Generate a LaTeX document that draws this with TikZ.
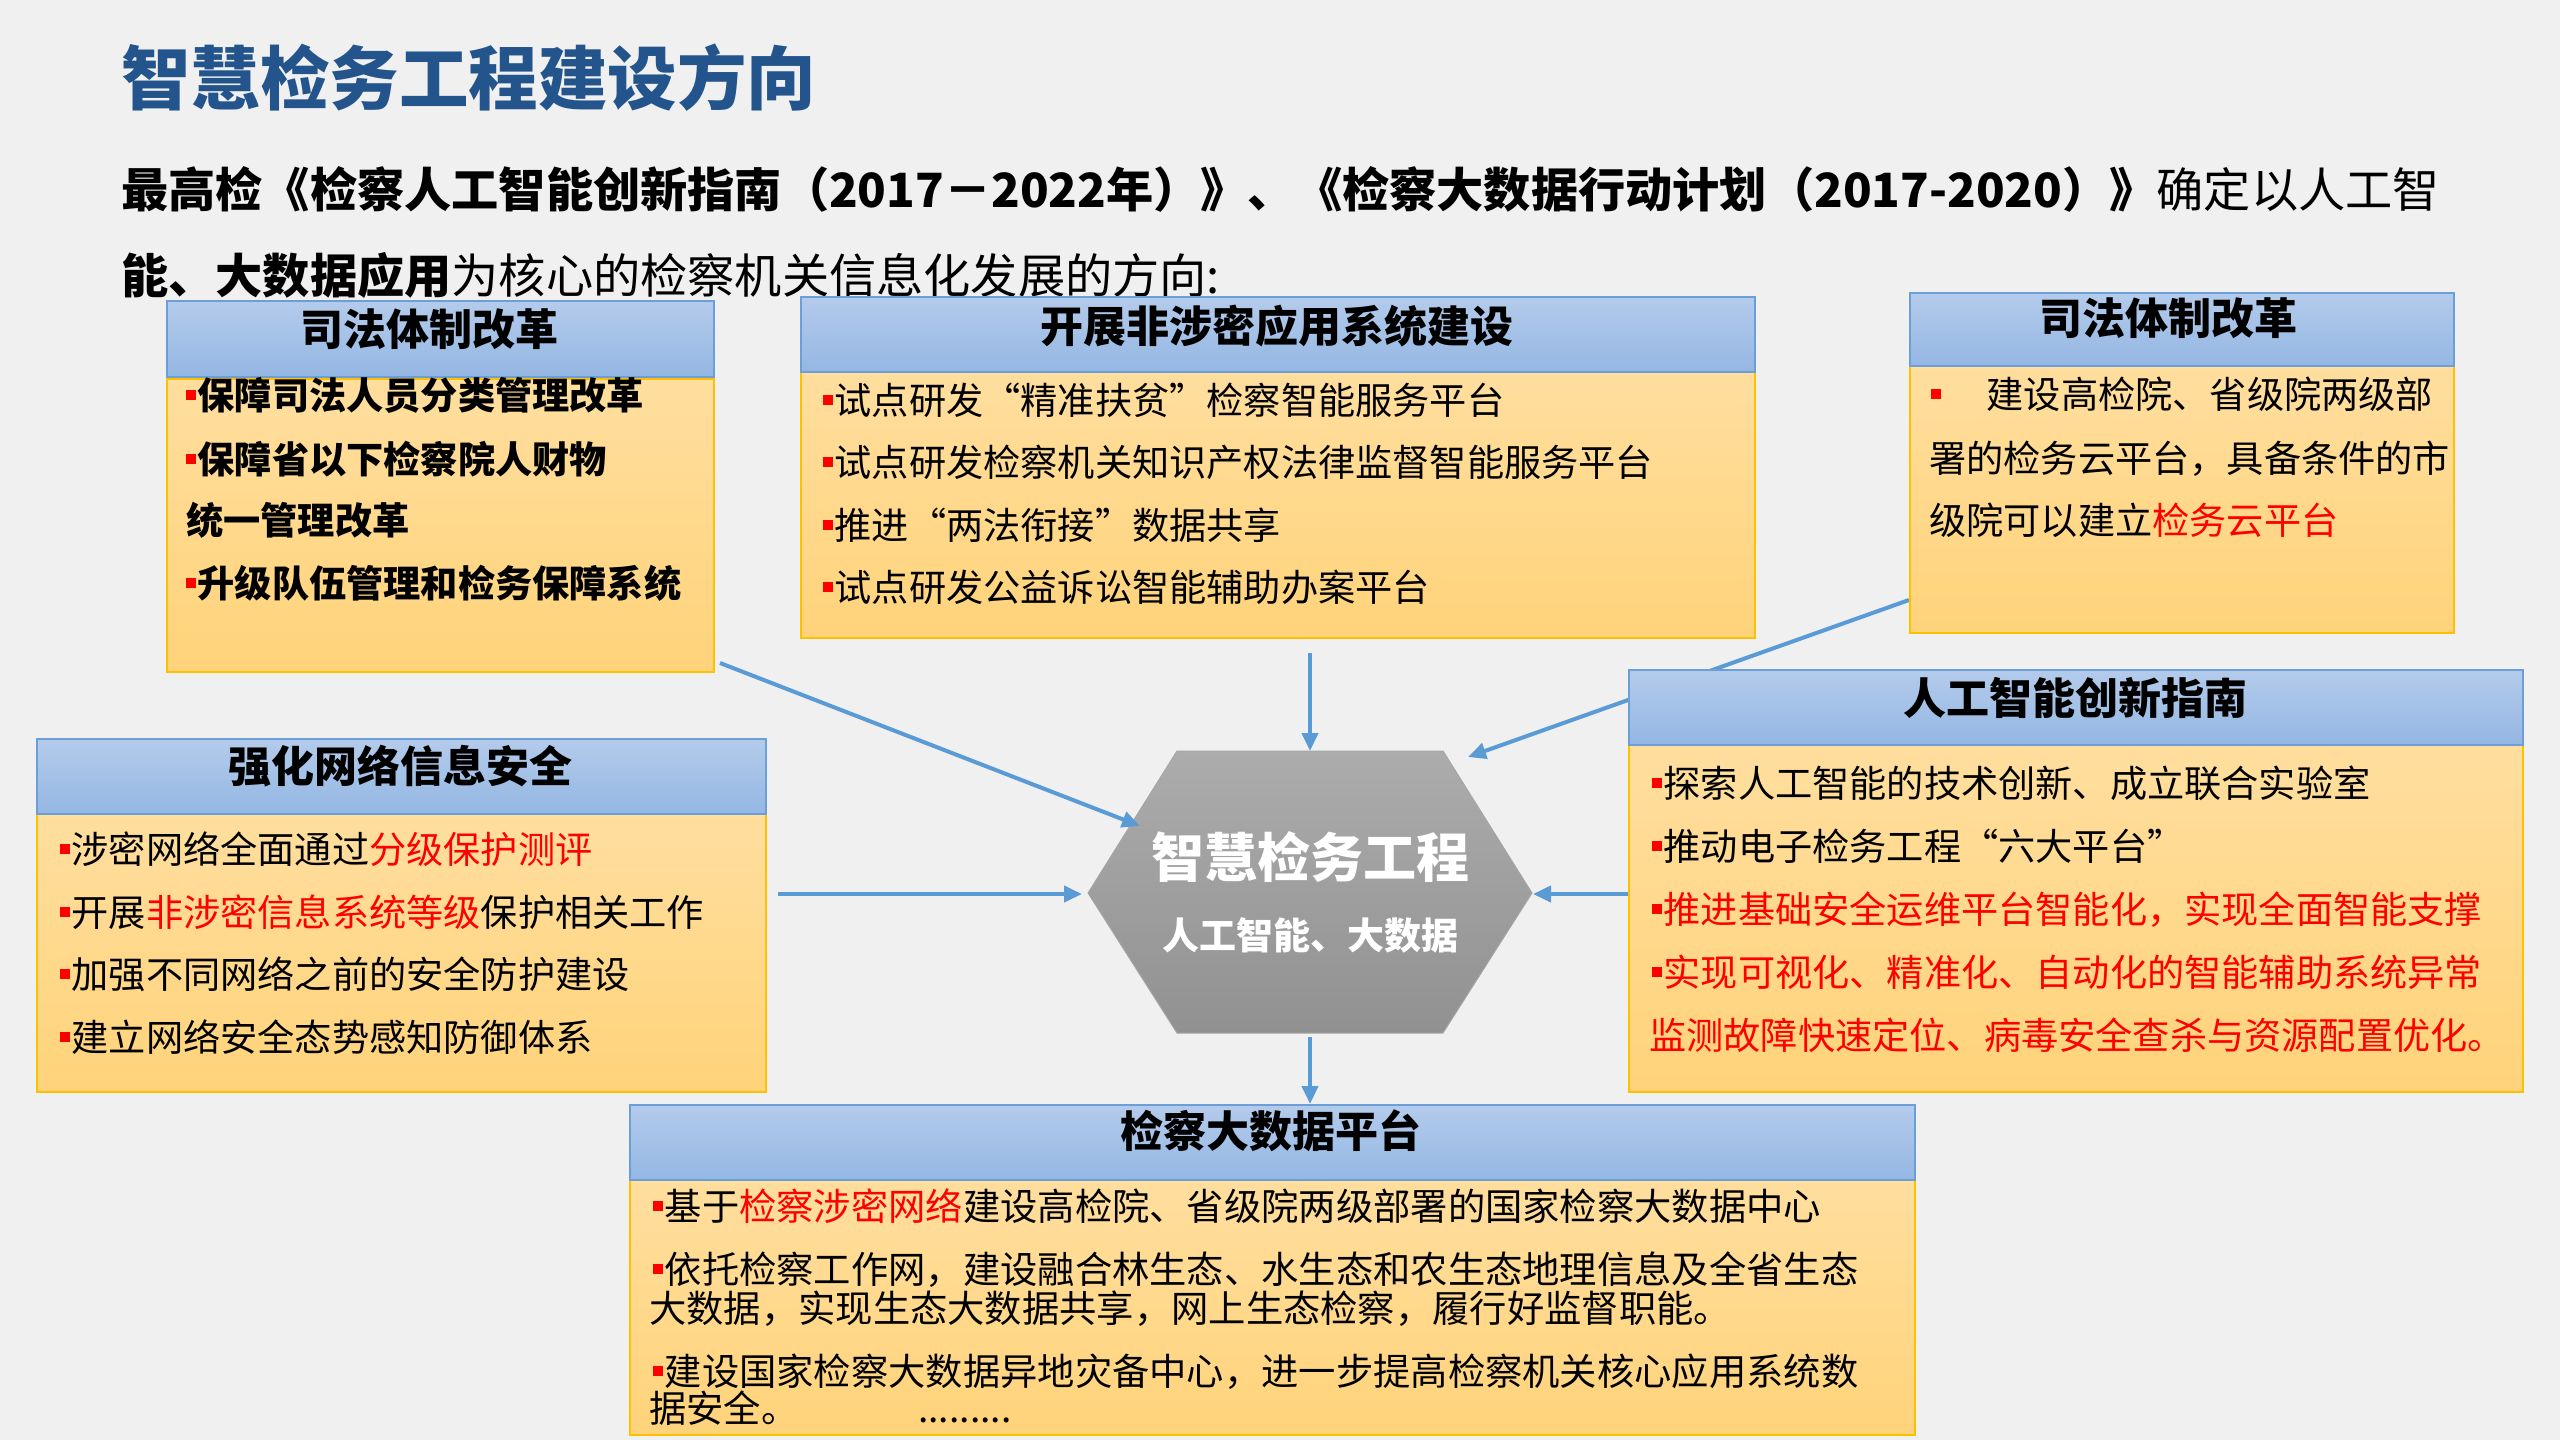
\documentclass[tikz,border=0pt]{standalone}
\usepackage{fontspec}
\setmainfont{Noto Sans CJK SC}
\usetikzlibrary{arrows.meta}
\definecolor{bgc}{RGB}{240,240,240}
\definecolor{titleblue}{RGB}{35,85,140}
\definecolor{hdtop}{RGB}{180,203,235}
\definecolor{hdbot}{RGB}{148,183,227}
\definecolor{hdline}{RGB}{108,159,216}
\definecolor{bdtop}{RGB}{255,222,158}
\definecolor{bdbot}{RGB}{255,211,122}
\definecolor{bdline}{RGB}{255,192,0}
\definecolor{arr}{RGB}{91,155,213}
\definecolor{hextop}{RGB}{172,172,172}
\definecolor{hexbot}{RGB}{145,145,145}
\newcommand\blt{\textcolor{red}{\rule[0.24em]{0.27em}{0.27em}}\hspace{0.04em}}
\begin{document}
\begin{tikzpicture}[x=1pt,y=-1pt,
  hdr/.style={draw=hdline, line width=1.5pt, top color=hdtop, bottom color=hdbot, inner sep=0pt, anchor=north west},
  bdy/.style={draw=bdline, line width=1.5pt, top color=bdtop, bottom color=bdbot, inner sep=0pt, anchor=north west},
  htxt/.style={anchor=base, inner sep=0pt, font=\fontsize{43}{46}\selectfont\bfseries},
  txt/.style={anchor=base west, inner sep=0pt, font=\fontsize{37.2}{40}\selectfont},
  btxt/.style={anchor=base west, inner sep=0pt, font=\fontsize{37.2}{40}\selectfont\bfseries},
  ftxt/.style={anchor=base west, inner sep=0pt, font=\fontsize{37.3}{40}\selectfont},
  conn/.style={draw=arr, line width=4pt, -{Triangle[length=18pt,width=16pt]}}]
\fill[bgc] (0,0) rectangle (2560,1440);
\useasboundingbox (0,0) rectangle (2560,1440);
% title
\node[anchor=base west, inner sep=0pt, text=titleblue, font=\fontsize{69.5}{72}\selectfont\bfseries] (title) at (121,104) {智慧检务工程建设方向};
\node[anchor=base west, inner sep=0pt, font=\fontsize{47.2}{52}\selectfont] (sub1) at (121,207) {\textbf{最高检《检察人工智能创新指南（2017－2022年）》、《检察大数据行动计划（2017-2020）》}确定以人工智};
\node[anchor=base west, inner sep=0pt, font=\fontsize{47.2}{52}\selectfont] (sub2) at (121,293) {\textbf{能、大数据应用}为核心的检察机关信息化发展的方向:};
% hexagon
\coordinate (hl) at (1088,893);
\coordinate (hul) at (1177,751);
\coordinate (hur) at (1443,751);
\coordinate (hr) at (1532,893);
\coordinate (hlr) at (1443,1033);
\coordinate (hll) at (1177,1033);
\shade[top color=hextop, bottom color=hexbot, draw=gray!70, line width=1pt] (hl) -- (hul) -- (hur) -- (hr) -- (hlr) -- (hll) -- cycle;
\node[anchor=base, inner sep=0pt, text=white, font=\fontsize{53}{56}\selectfont\bfseries] (hex1) at (1310,877) {智慧检务工程};
\node[anchor=base, inner sep=0pt, text=white, font=\fontsize{37}{40}\selectfont\bfseries] (hex2) at (1310,949) {人工智能、大数据};
% arrow end points
\coordinate (a1s) at (720,663);
\coordinate (a1e) at (1140,826);
\coordinate (a2s) at (1310,653);
\coordinate (a3s) at (1909,600);
\coordinate (a3e) at (1468,757);
\coordinate (a4s) at (778,894);
\coordinate (a4e) at (1082,894);
\coordinate (a5s) at (1628,894);
\coordinate (a5e) at (1533,894);
\coordinate (a6s) at (1310,1037);
\coordinate (a6e) at (1310,1104);
\draw[conn] (a1s) -- (a1e);
\draw[conn] (a2s) -- (hul -| a2s);
\draw[conn] (a3s) -- (a3e);
\draw[conn] (a4s) -- (a4e);
\draw[conn] (a5s) -- (a5e);
\draw[conn] (a6s) -- (a6e);
% Box A
\node[bdy, minimum width=547pt, minimum height=293pt] (Ab) at (166,378) {};
\node[hdr, minimum width=547pt, minimum height=76pt] (Ah) at (166,300) {};
\node[htxt] (At) at (429,345) {司法体制改革};
\node[btxt] (A1) at (186,409) {\blt 保障司法人员分类管理改革};
\node[btxt] (A2) at (186,473) {\blt 保障省以下检察院人财物};
\node[btxt] (A3) at (186,534) {统一管理改革};
\node[btxt] (A4) at (186,597) {\blt 升级队伍管理和检务保障系统};
% Box B
\node[bdy, minimum width=954pt, minimum height=266pt] (Bb) at (800,371) {};
\node[hdr, minimum width=954pt, minimum height=75pt] (Bh) at (800,296) {};
\node[htxt] (Bt) at (1277,342) {开展非涉密应用系统建设};
\node[txt] (B1) at (823,414) {\blt 试点研发“精准扶贫”检察智能服务平台};
\node[txt] (B2) at (823,476) {\blt 试点研发检察机关知识产权法律监督智能服务平台};
\node[txt] (B3) at (823,539) {\blt 推进“两法衔接”数据共享};
\node[txt] (B4) at (823,601) {\blt 试点研发公益诉讼智能辅助办案平台};
% Box C
\node[bdy, minimum width=544pt, minimum height=267pt] (Cb) at (1909,365) {};
\node[hdr, minimum width=544pt, minimum height=73pt] (Ch) at (1909,292) {};
\node[htxt] (Ct) at (2168,334) {司法体制改革};
\node[txt] (C1) at (1931,408) {\blt\hspace{44pt}建设高检院、省级院两级部};
\node[txt] (C2) at (1929,472) {署的检务云平台，具备条件的市};
\node[txt] (C3) at (1929,534) {级院可以建立\textcolor{red}{检务云平台}};
% Box E (drawn after arrow 3 so it covers it)
\node[bdy, minimum width=894pt, minimum height=347pt] (Eb) at (1628,744) {};
\node[hdr, minimum width=894pt, minimum height=75pt] (Eh) at (1628,669) {};
\node[htxt] (Et) at (2075,714) {人工智能创新指南};
\node[txt] (E1) at (1652,797) {\blt 探索人工智能的技术创新、成立联合实验室};
\node[txt] (E2) at (1652,860) {\blt 推动电子检务工程“六大平台”};
\node[txt, text=red] (E3) at (1652,923) {\blt 推进基础安全运维平台智能化，实现全面智能支撑};
\node[txt, text=red] (E4) at (1652,986) {\blt 实现可视化、精准化、自动化的智能辅助系统异常};
\node[txt, text=red] (E5) at (1649,1049) {监测故障快速定位、病毒安全查杀与资源配置优化。};
% Box D
\node[bdy, minimum width=729pt, minimum height=278pt] (Db) at (36,813) {};
\node[hdr, minimum width=729pt, minimum height=75pt] (Dh) at (36,738) {};
\node[htxt] (Dt) at (400,782) {强化网络信息安全};
\node[txt] (D1) at (60,863) {\blt 涉密网络全面通过\textcolor{red}{分级保护测评}};
\node[txt] (D2) at (60,926) {\blt 开展\textcolor{red}{非涉密信息系统等级}保护相关工作};
\node[txt] (D3) at (60,988) {\blt 加强不同网络之前的安全防护建设};
\node[txt] (D4) at (60,1051) {\blt 建立网络安全态势感知防御体系};
% Box F
\node[bdy, minimum width=1285pt, minimum height=255pt] (Fb) at (629,1179) {};
\node[hdr, minimum width=1285pt, minimum height=75pt] (Fh) at (629,1104) {};
\node[htxt] (Ft) at (1271,1147) {检察大数据平台};
\node[ftxt] (F1) at (653,1220) {\blt 基于\textcolor{red}{检察涉密网络}建设高检院、省级院两级部署的国家检察大数据中心};
\node[ftxt] (F2) at (653,1283) {\blt 依托检察工作网，建设融合林生态、水生态和农生态地理信息及全省生态};
\node[ftxt] (F3) at (649,1322) {大数据，实现生态大数据共享，网上生态检察，履行好监督职能。};
\node[ftxt] (F4) at (653,1385) {\blt 建设国家检察大数据异地灾备中心，进一步提高检察机关核心应用系统数};
\node[ftxt] (F5) at (649,1422) {据安全。};
\node[ftxt] (F6) at (918,1422) {.........};
\end{tikzpicture}
\end{document}
